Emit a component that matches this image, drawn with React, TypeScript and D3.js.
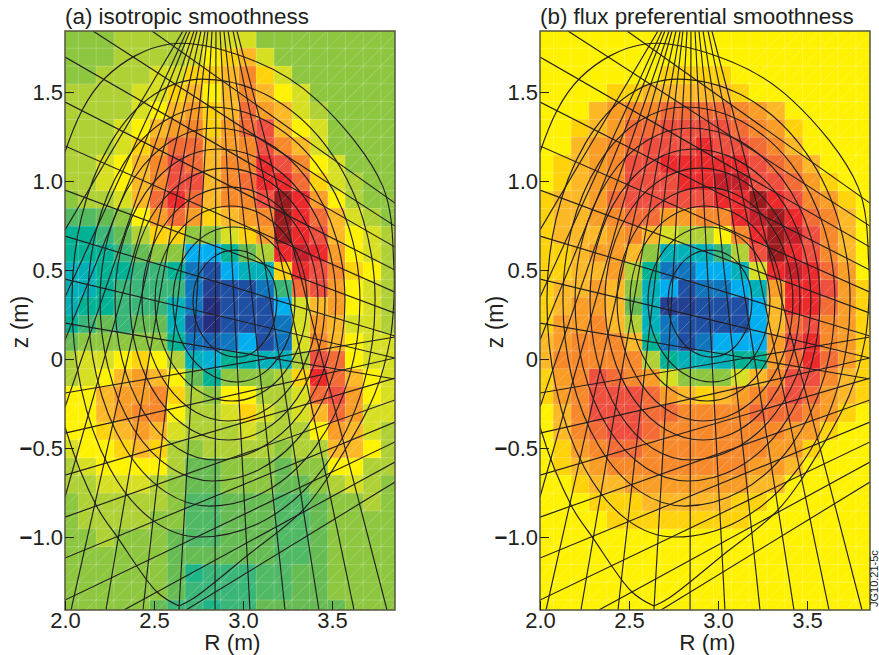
import React, { useEffect, useRef } from "react";
import * as d3 from "d3";

// colour bar stops, low to high
const colourStops = [
  "#252f7f", "#1f4fa3", "#0f75bc", "#00aeef", "#00b0b9", "#00b294", "#39b678",
  "#66bc52", "#8dc63f", "#afd136", "#d7df23", "#fff200", "#ffd20a", "#fdb827",
  "#f99d26", "#f7892b", "#f36c36", "#ef4f3e", "#ec2a2c", "#c4202a", "#9b1b1f",
];

// emissivity level per cell, top row first
const isotropic = [
  [8,8,8,9,9,9,9,10,10,10,10,8,8,8,8,8,8,8,8],
  [8,8,8,9,9,9,9,10,11,12,13,10,8,8,8,8,8,8,8],
  [8,8,9,9,9,10,10,12,12,13,15,12,10,8,8,8,8,8,8],
  [9,9,9,9,10,10,12,13,11,13,15,13,11,10,8,8,8,8,8],
  [9,9,9,9,10,11,13,14,12,13,16,14,13,10,9,8,8,8,8],
  [9,9,9,10,11,13,14,15,12,14,16,17,13,11,10,8,8,8,8],
  [9,9,9,10,12,14,16,16,13,14,15,17,15,13,10,8,8,8,8],
  [9,9,10,11,13,15,17,16,13,15,15,18,17,15,11,10,8,8,8],
  [9,9,10,11,13,15,17,17,13,15,16,18,18,16,12,10,9,8,8],
  [8,9,9,10,13,16,18,16,13,15,15,17,20,18,14,11,9,8,8],
  [6.6,6.6,7,8,11,14,16,14,12,13,14,15,20,18,16,13,10,9,8],
  [5,5,6,7,9,12,12,8,8,10,12,14,20,18,17,13,11,10,9],
  [5,5,5,6,7,8,8,3,3,5,7,9,18,19,18,14,11,10,9],
  [4,4,5,5,6,6,5,2,1,3,4,4,12,18,17,15,12,11,9],
  [4,4,5,6,6,6,6,2,0.5,1,1,2,6,16,17,14,11,10,9],
  [4,5,5,6,6,6,4,2,0,1,1,1,3,10,13,14,11,10,9],
  [5,6,7,6,7,7,4,1,0,1,1,1,2,10,14,13,10,10,9],
  [7,8,8,8,8,8,5,2,1.5,2,3,1,2,10,15,13,11,10,10],
  [9,10,10,11,12,11,9,4,3.5,5,4.5,4,4,9,17,16,11,10,10],
  [9,10,11,13,14,13,11,7,5,8,8,8,9,12,18,16,13,11,10],
  [11,11,13,14,14,15,12,9,8,11,11,9,9,10,16,17,14,11,10],
  [11,11,13,14,15,15,11,9,9,10,12,10,9,10,13,16,14,10,10],
  [11,11,12,13,14,13,10,9,9,9,10,9,9,9,11,14,13,10,9],
  [10,11,11,12,13,12,9,8,9,9,9,9,8,9,9,13,13,11,9],
  [9,10,11,11,11,11,9,7,7,8,8,8,7,8,8,11,11,9,9],
  [9,9,10,10,10,9,8,7,7,8,8,8,7,7,8,9,10,9,8],
  [8,9,9,9,9,9,8,6.5,6.5,7,7,7,6.5,6.5,7,8,8,9,8],
  [8,9,9,9,9,8,8,6.5,6.5,7,7,7,6.5,6.5,7,8,8,8,8],
  [8,8,9,8,8,8,7,6.5,6.5,7,7,7,6.5,6.5,7,8,8,8,8],
  [8,8,8,8,8,8,7,7,7,7,7,7,6.5,6.5,7,8,8,8,8],
  [8,8,8,8,8,8,7,5.5,6,6,6,6.5,6.5,7,7,8,8,8,8],
  [8,8,8,8,8,8,7,6,6,6,6,6.5,6.5,7,7,8,8,8,8],
  [8,8,8,8,8,7,6,6,5.5,6,6,7,7,7,7,7,8,8,8],
];

const fluxPreferential = [
  [11,11,11,11,11,11,11,11,11,11,11,11,11,11,11,11,11,11,11],
  [11,11,11,11,11,11,11,11,11,11,11,11,11,11,11,11,11,11,11],
  [11,11,11,11,11,11,11,12,12,12,12,11,11,11,11,11,11,11,11],
  [11,11,11,11,12,12,13,13,13,13,13,12,11,11,11,11,11,11,11],
  [11,11,11,13,14,15,15,16,16,16,16,15,14,13,11,11,11,11,11],
  [11,11,12,13,14,16,16,17,17,17,17,16,15,14,12,11,11,11,11],
  [11,11,13,14,15,16,17,17,17,18,17,17,16,15,13,11,11,11,11],
  [11,12,13,14,15,17,17,18,18,18,18,18,17,16,15,13,11,11,11],
  [11,12,13,14,15,17,17,17,18,18,19,19,17,17,16,14,12,11,11],
  [12,13,13,14,16,17,17,17,17,17,18,18,20,18,17,15,14,12,11],
  [12,13,13,14,15,16,16,14,14,15,15,18,19,20,18,16,15,13,11],
  [12,13,13,13,14,15,13,10,9,9,11,15,18,20,19,17,15,13,11],
  [12,12,13,14,14,13,8,4,4,4,6,9,17,20,18,17,15,13,11],
  [12,12,13,13,14,9,5,2,2,3,3,4,10,18,19,18,16,14,11],
  [12,13,13,14,13,8,4,3,1,2,2,3,4,14,18,18,17,14,12],
  [12,13,14,14,13,7,4,0.5,0.5,1,1,1,3,13,18,18,16,14,12],
  [12,14,14,15,13,9,4,2,1,1,1,1,3,13,16,17,15,14,12],
  [13,14,15,15,15,13,5,2,1,2,3,3,3,14,17,18,15,14,12],
  [13,15,15,15,15,15,9,5,4,4,4,5,5,14,16,18,16,14,12],
  [12,14,15,17,16,15,14,10,8,8,8,10,13,15,17,17,15,13,12],
  [12,14,15,17,17,17,16,14,13,12,13,14,15,16,17,16,14,13,12],
  [11,13,15,17,17,17,16,16,15,15,15,15,16,16,16,15,14,12,11],
  [11,13,15,16,17,17,16,15,15,15,15,15,15,15,14,14,12,11,11],
  [11,12,14,15,16,16,15,15,15,15,15,15,15,14,14,12,11,11,11],
  [11,12,13,14,15,15,15,15,15,15,15,15,14,14,13,11,11,11,11],
  [11,11,12,13,13,14,14,14,14,14,14,14,13,13,11,11,11,11,11],
  [11,11,11,12,12,12,13,13,13,13,13,12,12,11,11,11,11,11,11],
  [11,11,11,11,12,12,12,12,12,12,12,12,11,11,11,11,11,11,11],
  [11,11,11,11,11,11,11,11,11,11,11,11,11,11,11,11,11,11,11],
  [11,11,11,11,11,11,11,11,11,11,11,11,11,11,11,11,11,11,11],
  [11,11,11,11,11,11,11,11,11,11,11,11,11,11,11,11,11,11,11],
  [11,11,11,11,11,11,11,11,11,11,11,11,11,11,11,11,11,11,11],
  [11,11,11,11,11,11,11,11,11,11,11,11,11,11,11,11,11,11,11],
];

const zTicks = [1.5, 1, 0.5, 0, -0.5, -1];
const rTicks = [2, 2.5, 3, 3.5];

const rMin = 2, rMax = 3.854, zMin = -1.41, zMax = 1.843;

// cell edges
const rEdges = [rMin, ...d3.range(19 - 1).map((i) => 2.075 + i * 0.1), rMax];
const zEdges = [zMax, ...d3.range(33 - 1).map((i) => 1.746 - i * 0.1), zMin];

// flux surfaces: left R, right R, top z, bottom z, R at top, R at bottom
const fluxSurfaces = [
  [2.719, 3.191, 0.612, 0.011, 2.955, 2.966],
  [2.607, 3.292, 0.742, -0.129, 2.944, 2.966],
  [2.506, 3.36, 0.86, -0.236, 2.927, 2.938],
  [2.433, 3.421, 0.966, -0.348, 2.927, 2.916],
  [2.365, 3.461, 1.073, -0.455, 2.899, 2.916],
  [2.281, 3.522, 1.18, -0.567, 2.86, 2.843],
  [2.197, 3.573, 1.298, -0.685, 2.843, 2.831],
  [2.129, 3.657, 1.416, -0.826, 2.815, 2.815],
  [2.039, 3.742, 1.573, -1.0, 2.77, 2.758],
];
const axisZ = 0.33;

// last closed surface, starts and ends on the X-point
const separatrix = [
  [2.64,-1.388],[2.517,-1.309],[2.298,-1.006],[2.18,-0.831],[2.0,-0.382],[1.86,0.331],
  [2.0,1.163],[2.225,1.579],[2.59,1.77],[3.079,1.669],[3.416,1.455],[3.787,0.966],
  [3.848,0.517],[3.848,0.331],[3.826,0.107],[3.742,-0.191],[3.573,-0.511],[3.337,-0.848],
  [3.028,-1.101],[2.725,-1.343],[2.64,-1.388],
];

// lines of sight: R1, z1, R2, z2
const verticalFan = [
  [2.663,1.843,2,0.725],[2.685,1.843,2,0.348],[2.702,1.843,2,0.107],[2.725,1.843,2,-0.27],
  [2.742,1.843,2,-0.775],[2.764,1.843,2.034,-1.41],[2.787,1.843,2.23,-1.41],[2.803,1.843,2.438,-1.41],
  [2.826,1.843,2.64,-1.41],[2.848,1.843,2.843,-1.41],[2.871,1.843,3.039,-1.41],[2.893,1.843,3.236,-1.41],
  [2.916,1.843,3.427,-1.41],[2.944,1.843,3.624,-1.41],[2.966,1.843,3.809,-1.41],
];
const upperFan = [
  [2.489,1.843,3.854,0.876],[2.157,1.843,3.854,0.747],[2,1.697,3.854,0.629],[2,1.444,3.854,0.5],
  [2,1.197,3.854,0.376],[2,0.949,3.854,0.258],[2,0.691,3.854,0.129],[2,0.449,3.854,0.006],[2,0.202,3.854,-0.112],
];
const lowerFan = [
  [2,-0.191,3.854,0.124],[2,-0.416,3.854,0.006],[2,-0.652,3.854,-0.107],[2,-0.888,3.854,-0.23],
  [2,-1.118,3.854,-0.354],[2,-1.354,3.854,-0.466],[2.331,-1.41,3.854,-0.579],[2.68,-1.41,3.854,-0.691],
];

const width = 879;
const height = 655;
const plotW = 330;
const top = 31;
const bottom = 610;
const font = "'Liberation Sans', Arial, sans-serif";
const ink = "#231f20";

const colour = d3
  .scaleLinear<string>()
  .domain(colourStops.map((_, i) => i))
  .range(colourStops)
  .interpolate(d3.interpolateRgb);

function drawPanel(svg: any, id: string, left: number, title: string, cells: number[][], labelX: number) {
  const x = d3.scaleLinear().domain([rMin, rMax]).range([left, left + plotW]);
  const y = d3.scaleLinear().domain([zMin, zMax]).range([bottom, top]);

  svg.append("clipPath").attr("id", id)
    .append("rect").attr("x", left).attr("y", top).attr("width", plotW).attr("height", bottom - top);

  const g = svg.append("g").attr("clip-path", `url(#${id})`);

  // cells
  g.append("g").attr("shape-rendering", "crispEdges")
    .selectAll("g").data(cells).enter().append("g")
    .each(function (this: any, row: number[], j: number) {
      d3.select(this).selectAll("rect").data(row).enter().append("rect")
        .attr("x", (_: number, i: number) => x(rEdges[i]))
        .attr("y", y(zEdges[j]))
        .attr("width", (_: number, i: number) => x(rEdges[i + 1]) - x(rEdges[i]) + 0.5)
        .attr("height", y(zEdges[j + 1]) - y(zEdges[j]) + 0.5)
        .attr("fill", (d: number) => colour(d));
    });

  // faint mesh
  const mesh = g.append("g").attr("stroke", "#fff").attr("stroke-opacity", 0.28).attr("stroke-width", 0.8);
  rEdges.slice(1, -1).forEach((r) => {
    mesh.append("line").attr("x1", x(r)).attr("x2", x(r)).attr("y1", top).attr("y2", bottom);
  });
  zEdges.slice(1, -1).forEach((z) => {
    mesh.append("line").attr("x1", left).attr("x2", left + plotW).attr("y1", y(z)).attr("y2", y(z));
  });
  d3.range(-20, 34).forEach((i) => {
    const r0 = 2.075 + i * 0.1;
    mesh.append("line")
      .attr("x1", x(r0)).attr("y1", y(-1.454))
      .attr("x2", x(r0 + 3.4)).attr("y2", y(-1.454 + 3.4));
  });

  const lines = g.append("g").attr("fill", "none").attr("stroke", ink).attr("stroke-width", 1.15);

  // flux surfaces, four quarter ellipses each
  fluxSurfaces.forEach(([rl, rr, zt, zb, rt, rb]) => {
    const ym = y(axisZ);
    const d =
      `M${x(rl)},${ym}` +
      `A${x(rt) - x(rl)},${ym - y(zt)} 0 0 1 ${x(rt)},${y(zt)}` +
      `A${x(rr) - x(rt)},${ym - y(zt)} 0 0 1 ${x(rr)},${ym}` +
      `A${x(rr) - x(rb)},${y(zb) - ym} 0 0 1 ${x(rb)},${y(zb)}` +
      `A${x(rb) - x(rl)},${y(zb) - ym} 0 0 1 ${x(rl)},${ym}`;
    lines.append("path").attr("d", d);
  });

  const curve = d3.line<number[]>()
    .x((d) => x(d[0]))
    .y((d) => y(d[1]))
    .curve(d3.curveCatmullRom.alpha(0.5));
  lines.append("path").attr("d", curve(separatrix));

  [...verticalFan, ...upperFan, ...lowerFan].forEach(([r1, z1, r2, z2]) => {
    lines.append("line").attr("x1", x(r1)).attr("y1", y(z1)).attr("x2", x(r2)).attr("y2", y(z2));
  });

  // frame
  svg.append("rect")
    .attr("x", left).attr("y", top).attr("width", plotW).attr("height", bottom - top)
    .attr("fill", "none").attr("stroke", "#55553f").attr("stroke-width", 1.5);

  const yAxis = d3.axisLeft(y).tickValues(zTicks).tickSize(-9).tickPadding(2)
    .tickFormat((d: any) => (d === 0 ? "0" : d3.format(".1f")(Math.abs(d))));
  const xAxis = d3.axisBottom(x).tickValues(rTicks).tickSize(-9).tickPadding(2)
    .tickFormat((d: any) => d3.format(".1f")(d));

  const yG = svg.append("g").attr("transform", `translate(${left},0)`).call(yAxis);
  const xG = svg.append("g").attr("transform", `translate(0,${bottom})`).call(xAxis);
  [yG, xG].forEach((a) => {
    a.select(".domain").remove();
    a.attr("font-family", font).attr("font-size", 22);
    a.selectAll("text").attr("fill", ink);
    a.selectAll("line").attr("stroke", ink).attr("stroke-width", 1);
  });

  // the heavy minus sign on the negative ticks
  yG.selectAll(".tick text").each(function (this: any, d: any) {
    if (d < 0) {
      const t = d3.select(this);
      const label = t.text();
      t.text("");
      t.append("tspan").attr("font-weight", "bold").text("\u2212");
      t.append("tspan").text(label);
    }
  });

  svg.append("text").attr("x", left).attr("y", 24)
    .attr("font-family", font).attr("font-size", 22.4).attr("fill", ink).text(title);

  svg.append("text").attr("x", x(2.94)).attr("y", 650).attr("text-anchor", "middle")
    .attr("font-family", font).attr("font-size", 22.5).attr("fill", ink).text("R (m)");

  svg.append("text").attr("transform", `translate(${labelX},322) rotate(-90)`).attr("text-anchor", "middle")
    .attr("font-family", font).attr("font-size", 23).attr("fill", ink).text("z (m)");
}

export default function App() {
  const ref = useRef<SVGSVGElement>(null);

  useEffect(() => {
    const svg = d3.select(ref.current);
    svg.selectAll("*").remove();
    drawPanel(svg, "clipA", 65, "(a) isotropic smoothness", isotropic, 28);
    drawPanel(svg, "clipB", 540, "(b) flux preferential smoothness", fluxPreferential, 503);
    svg.append("text").attr("transform", "translate(878,607) rotate(-90)")
      .attr("font-family", font).attr("font-size", 11).attr("fill", ink).text("JG10.21-5c");
  }, []);

  return (
    <svg
      ref={ref}
      width={width}
      height={height}
      style={{ position: "absolute", left: 0, top: 0, background: "#fff" }}
    />
  );
}
